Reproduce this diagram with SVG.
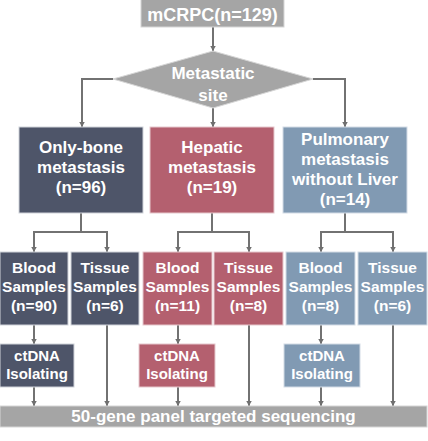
<svg xmlns="http://www.w3.org/2000/svg" width="428" height="441" viewBox="0 0 428 441">
<defs>
<marker id="ah" markerUnits="userSpaceOnUse" markerWidth="8" markerHeight="8" refX="5.5" refY="4" orient="auto">
<path d="M0,1 L5.5,4 L0,7 Z" fill="#6f6f6f"/>
</marker>
</defs>
<style>
.t{font-family:"Liberation Sans",Arial,sans-serif;font-weight:bold;fill:#fff;text-anchor:middle}
.gray{fill:#a5a5a5;stroke:#d6d6d6;stroke-width:1}
.dark{fill:#4e5569;stroke:#d0d3da;stroke-width:1}
.red{fill:#b4606f;stroke:#e6c8cd;stroke-width:1}
.blue{fill:#819ab3;stroke:#d3dce6;stroke-width:1}
.c{fill:none;stroke:#727272;stroke-width:2}
.a{marker-end:url(#ah)}
.f18{font-size:18px}.f17{font-size:17px}.f155{font-size:15.5px}.f15{font-size:15px}
</style>
<rect width="428" height="441" fill="#fff"/>
<g id="connectors">
<path class="c a" d="M213,27 V51"/>
<path class="c a" d="M113,79 H82 V127"/>
<path class="c a" d="M213,108 V127"/>
<path class="c a" d="M313,79 H345 V127"/>
<path class="c" d="M81,213 V232"/><path class="c a" d="M34,232 V252"/><path class="c a" d="M107,232 V252"/><path class="c" d="M33,232 H108"/>
<path class="c" d="M212,213 V232"/><path class="c a" d="M178,232 V252"/><path class="c a" d="M249,232 V252"/><path class="c" d="M177,232 H250"/>
<path class="c" d="M345,213 V232"/><path class="c a" d="M321,232 V252"/><path class="c a" d="M393,232 V252"/><path class="c" d="M320,232 H394"/>
<path class="c a" d="M34,325 V344"/><path class="c a" d="M178,325 V344"/><path class="c a" d="M321,325 V344"/>
<path class="c a" d="M34,387 V406"/><path class="c a" d="M178,387 V406"/><path class="c a" d="M321,387 V406"/>
<path class="c a" d="M107,325 V406"/><path class="c a" d="M249,325 V406"/><path class="c a" d="M393,325 V406"/>
</g>
<g id="mcrpc"><rect class="gray" x="141" y="-1" width="143" height="28"/><text class="t f18" x="212.5" y="21">mCRPC(n=129)</text></g>
<g id="site"><polygon class="gray" points="213,51 313,79 213,108 113,79"/><text class="t f17" x="213" y="79" font-size="17.5">Metastatic</text><text class="t f17" x="213" y="100.5" font-size="17.5">site</text></g>
<g id="bone"><rect class="dark" x="19" y="127" width="124" height="86"/><text class="t f17" x="81" y="153">Only-bone</text><text class="t f17" x="81" y="173">metastasis</text><text class="t f17" x="81" y="193">(n=96)</text></g>
<g id="hepatic"><rect class="red" x="150" y="127" width="124" height="86"/><text class="t f17" x="212" y="153">Hepatic</text><text class="t f17" x="212" y="173">metastasis</text><text class="t f17" x="212" y="193">(n=19)</text></g>
<g id="pulmonary"><rect class="blue" x="283" y="127" width="124" height="86"/><text class="t f17" x="345" y="145">Pulmonary</text><text class="t f17" x="345" y="165">metastasis</text><text class="t f17" x="345" y="185">without Liver</text><text class="t f17" x="345" y="205">(n=14)</text></g>
<g id="bone-blood"><rect class="dark" x="0" y="252" width="68" height="73"/><text class="t f155" x="34" y="272.5">Blood</text><text class="t f155" x="34" y="291.5">Samples</text><text class="t f155" x="34" y="310.5">(n=90)</text></g>
<g id="bone-tissue"><rect class="dark" x="71" y="252" width="68" height="73"/><text class="t f155" x="105" y="272.5">Tissue</text><text class="t f155" x="105" y="291.5">Samples</text><text class="t f155" x="105" y="310.5">(n=6)</text></g>
<g id="hep-blood"><rect class="red" x="143" y="252" width="69" height="73"/><text class="t f155" x="177.5" y="272.5">Blood</text><text class="t f155" x="177.5" y="291.5">Samples</text><text class="t f155" x="177.5" y="310.5">(n=11)</text></g>
<g id="hep-tissue"><rect class="red" x="214" y="252" width="69" height="73"/><text class="t f155" x="248.5" y="272.5">Tissue</text><text class="t f155" x="248.5" y="291.5">Samples</text><text class="t f155" x="248.5" y="310.5">(n=8)</text></g>
<g id="pul-blood"><rect class="blue" x="286" y="252" width="69" height="73"/><text class="t f155" x="320.5" y="272.5">Blood</text><text class="t f155" x="320.5" y="291.5">Samples</text><text class="t f155" x="320.5" y="310.5">(n=8)</text></g>
<g id="pul-tissue"><rect class="blue" x="358" y="252" width="69" height="73"/><text class="t f155" x="392.5" y="272.5">Tissue</text><text class="t f155" x="392.5" y="291.5">Samples</text><text class="t f155" x="392.5" y="310.5">(n=6)</text></g>
<g id="bone-ctdna"><rect class="dark" x="0" y="344" width="74" height="43"/><text class="t f15" x="37" y="361">ctDNA</text><text class="t f15" x="37" y="379">Isolating</text></g>
<g id="hep-ctdna"><rect class="red" x="139" y="344" width="76" height="43"/><text class="t f15" x="177" y="361">ctDNA</text><text class="t f15" x="177" y="379">Isolating</text></g>
<g id="pul-ctdna"><rect class="blue" x="284" y="344" width="76" height="43"/><text class="t f15" x="322" y="361">ctDNA</text><text class="t f15" x="322" y="379">Isolating</text></g>
<g id="sequencing"><rect class="gray" x="0" y="406" width="427" height="21"/><text class="t f17" x="213.5" y="422">50-gene panel targeted sequencing</text></g>
</svg>
